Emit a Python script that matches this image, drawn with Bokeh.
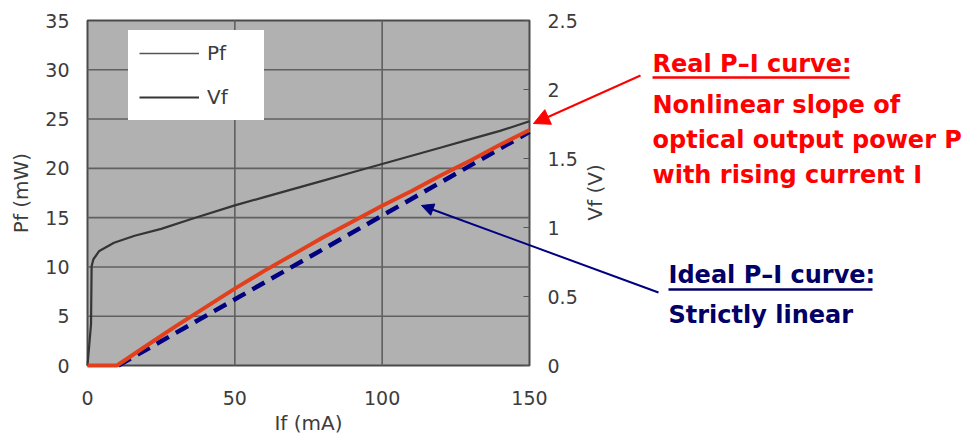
import math
from bokeh.plotting import figure
from bokeh.models import (Range1d, LinearAxis, FixedTicker, Legend, LegendItem,
                          Label, Arrow, NormalHead)
from bokeh.embed import file_html
from bokeh.resources import INLINE

# ---------------- data ----------------
current_ma = [0, 10, 20, 30, 40, 50, 60, 70, 80, 90, 100, 110, 120, 130, 140, 150]
real_pf_mw = [0, 0, 2.0, 4.0, 5.9, 7.8, 9.6, 11.3, 13.0, 14.6, 16.2, 17.7, 19.3, 20.8, 22.4, 23.9]

ideal_current_ma = [10.5, 150]
ideal_pf_mw = [0, 23.7]

vf_current_ma = [0, 1.2, 1.4, 2, 4, 9, 16, 25, 35, 50, 60, 70, 80, 90, 100, 110, 120, 130, 140, 150]
vf_volt = [0, 0.30, 0.72, 0.77, 0.83, 0.89, 0.94, 0.99, 1.06, 1.16, 1.22, 1.28, 1.34, 1.40,
           1.46, 1.52, 1.58, 1.64, 1.70, 1.77]

x_ticks = [0, 50, 100, 150]
pf_ticks = [0, 5, 10, 15, 20, 25, 30, 35]
vf_ticks = [0, 0.5, 1, 1.5, 2, 2.5]
vf_tick_labels = ["0", "0.5", "1", "1.5", "2", "2.5"]

real_title = "Real P\u2013I curve"
real_lines = ["Nonlinear slope of", "optical output power P", "with rising current I"]
ideal_title = "Ideal P\u2013I curve"
ideal_lines = ["Strictly linear"]

# ---------------- layout ----------------
W, H = 967, 439
FL, FR, FT, FB = 87, 529, 20, 365          # pixel box of the chart area
X0, X1, Y0, Y1 = 0, 150, 0, 35             # its data limits
V0, V1 = 0, 2.5

def px_x(px):
    return X0 + (px - FL) * (X1 - X0) / (FR - FL)

def px_y(py):
    return Y0 + (FB - py) * (Y1 - Y0) / (FB - FT)

def px_v(py):
    return V0 + (FB - py) * (V1 - V0) / (FB - FT)

FONT = "DejaVu Sans"
TXT = "#3c3c3c"
RED = "#ff0000"
NAVY = "#000066"

p = figure(width=W, height=H, output_backend="svg", toolbar_location=None,
           x_range=Range1d(px_x(0), px_x(W)), y_range=Range1d(px_y(H), px_y(0)),
           min_border=0, min_border_left=0, min_border_right=0,
           min_border_top=0, min_border_bottom=0,
           x_axis_location=None, y_axis_location=None)
p.background_fill_color = "white"
p.border_fill_color = "white"
p.outline_line_color = None
p.xgrid.visible = False
p.ygrid.visible = False
p.extra_y_ranges = {"vf": Range1d(px_v(H), px_v(0))}

# chart area (plot background + frame)
p.quad(left=[X0], right=[X1], bottom=[Y0], top=[Y1], fill_color="#b1b1b1",
       line_color="#4a4a4a", line_width=2)

# grid lines from the tick lists
gx = [t for t in x_ticks if X0 < t < X1]
gy = [t for t in pf_ticks if Y0 < t < Y1]
p.segment(x0=gx, x1=gx, y0=[Y0] * len(gx), y1=[Y1] * len(gx), line_color="#606060", line_width=1.6)
p.segment(x0=[X0] * len(gy), x1=[X1] * len(gy), y0=gy, y1=gy, line_color="#606060", line_width=1.6)

# axes at fixed locations
def style(ax):
    ax.axis_line_color = None
    ax.minor_tick_line_color = None
    ax.major_label_text_font = FONT
    ax.major_label_text_font_size = "19px"
    ax.major_label_text_color = TXT
    ax.axis_label_text_font = FONT
    ax.axis_label_text_font_size = "20px"
    ax.axis_label_text_font_style = "normal"
    ax.axis_label_text_color = TXT

xax = LinearAxis(ticker=FixedTicker(ticks=x_ticks), fixed_location=Y0, bounds=(X0, X1),
                 axis_label="If (mA)")
style(xax)
xax.major_tick_line_color = None
xax.major_label_standoff = 19
xax.axis_label_standoff = 3
p.add_layout(xax, "below")

yax = LinearAxis(ticker=FixedTicker(ticks=pf_ticks), fixed_location=X0, bounds=(Y0, Y1),
                 axis_label="Pf (mW)")
style(yax)
yax.major_tick_line_color = None
yax.major_label_standoff = 12
yax.axis_label_standoff = 9
p.add_layout(yax, "left")

vax = LinearAxis(y_range_name="vf", ticker=FixedTicker(ticks=vf_ticks), fixed_location=X1,
                 bounds=(V0, V1),
                 major_label_overrides={t: l for t, l in zip(vf_ticks, vf_tick_labels)})
style(vax)
vax.major_tick_in = 6
vax.major_tick_out = 0
vax.major_tick_line_color = "#555555"
vax.major_label_standoff = 18
p.add_layout(vax, "right")

# right axis title, reading bottom to top
p.add_layout(Label(x=px_x(594), y=px_y(192), text="Vf (V)", angle=math.pi / 2,
                   text_align="center", text_baseline="middle", text_font=FONT,
                   text_font_size="20px", text_color=TXT))

# curves
pf_r = p.line(current_ma, real_pf_mw, line_color="#555555", line_width=1.5)
vf_r = p.line(vf_current_ma, vf_volt, y_range_name="vf", line_color="#353535", line_width=2.2)
p.line(ideal_current_ma, ideal_pf_mw, line_color="#000080", line_width=4.5, line_dash="14 8")
p.line(current_ma, real_pf_mw, line_color="#e2401c", line_width=4)

# legend
legend = Legend(items=[LegendItem(label="Pf", renderers=[pf_r]),
                       LegendItem(label="Vf", renderers=[vf_r])],
                location=(128, H - 120), padding=11, spacing=20, margin=0,
                glyph_width=60, glyph_height=20, label_standoff=8, label_width=46,
                label_text_font=FONT, label_text_font_size="20px", label_text_color=TXT,
                background_fill_color="white", background_fill_alpha=1,
                border_line_alpha=0)
p.add_layout(legend, "center")

# annotations (TEXT_SHIFT compensates the label's baseline placement)
TEXT_SHIFT = 9

def add_text(x, y, text, color):
    p.add_layout(Label(x=px_x(x), y=px_y(y - TEXT_SHIFT), text=text, text_align="left",
                       text_baseline="alphabetic", text_font=FONT, text_font_size="24px",
                       text_font_style="bold", text_color=color))

add_text(652, 72, real_title + ":", RED)
for i, line in enumerate(real_lines):
    add_text(652, 113 + 35 * i, line, RED)
p.add_layout(Arrow(x_start=px_x(652), y_start=px_y(77), x_end=px_x(849), y_end=px_y(77),
                   start=None, end=None, line_color=RED, line_width=2.5))
p.add_layout(Arrow(x_start=px_x(640), y_start=px_y(75), x_end=px_x(533), y_end=px_y(123),
                   line_color=RED, line_width=2,
                   end=NormalHead(size=16, fill_color=RED, line_color=RED)))

add_text(668, 283, ideal_title + ":", NAVY)
for i, line in enumerate(ideal_lines):
    add_text(668, 323 + 40 * i, line, NAVY)
p.add_layout(Arrow(x_start=px_x(668), y_start=px_y(289), x_end=px_x(872), y_end=px_y(289),
                   start=None, end=None, line_color=NAVY, line_width=2.5))
p.add_layout(Arrow(x_start=px_x(658), y_start=px_y(292), x_end=px_x(421), y_end=px_y(205),
                   line_color="#000080", line_width=2,
                   end=NormalHead(size=12, fill_color="#000080", line_color="#000080")))

open("out.html", "w").write(file_html(p, INLINE))
